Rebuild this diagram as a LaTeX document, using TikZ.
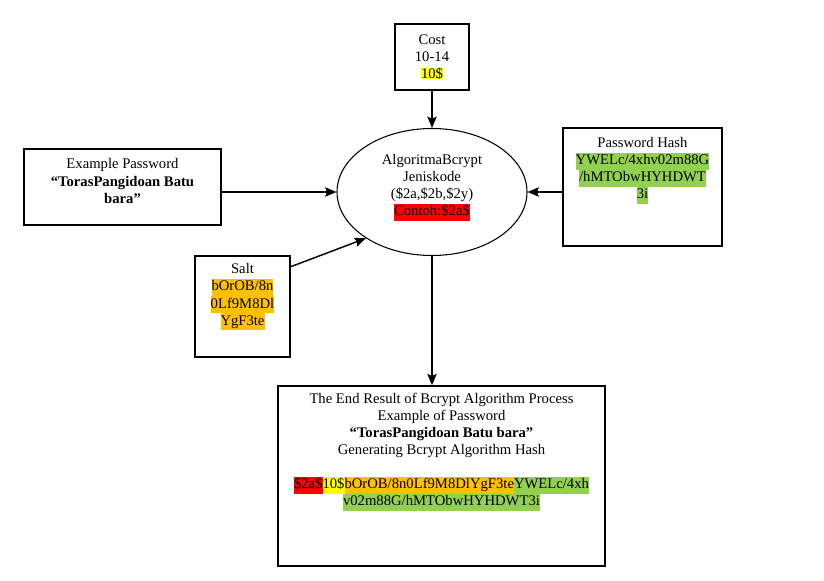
\documentclass[tikz,border=0pt]{standalone}
\usepackage{fontspec}
\setmainfont{Liberation Serif}
\usetikzlibrary{shapes.geometric,fit,arrows.meta}
\definecolor{hlyellow}{HTML}{FFFF00}
\definecolor{hlred}{HTML}{FF0000}
\definecolor{hlorange}{HTML}{FFC000}
\definecolor{hlgreen}{HTML}{92D050}
\newcommand\hl[2]{{\setlength\fboxsep{0pt}\colorbox{#1}{\strut #2}}}
\newcommand\hlt[2]{{\setlength\fboxsep{0pt}\colorbox{#1}{#2}}}
\begin{document}
\begin{tikzpicture}[x=0.75pt,y=-0.75pt,
  box/.style={draw, line width=1.1pt, inner sep=0pt},
  txt/.style={align=center, inner sep=0pt, text=black, font=\fontsize{11}{12.8}\selectfont},
  arr/.style={line width=1.1pt, -{Stealth[length=8.5pt,width=7pt,inset=1.5pt]}}]
\useasboundingbox (0,0) rectangle (824,581);
\fill[white] (0,0) rectangle (824,581);

% boxes
\node[box, fit={(395,24) (469,90)}] (cost) {};
\node[box, fit={(24,149) (221,225)}] (expw) {};
\node[box, fit={(563,128) (722,246)}] (hash) {};
\node[box, fit={(195,256) (290,357)}] (salt) {};
\node[box, fit={(278,386) (605,566)}] (end) {};
\node[draw, ellipse, line width=0.8pt, minimum width=142.5pt, minimum height=95.25pt, inner sep=0pt] (ell) at (432,192) {};

% texts
\node[txt] (costtxt) at (432,57) {Cost\\10-14\\\hlt{hlyellow}{10\$}};
\node[txt] (elltxt) at (432,187.5) {AlgoritmaBcrypt\\Jeniskode\\(\$2a,\$2b,\$2y)\\\hl{hlred}{Contoh:\$2a\$}};
\node[txt] (expwtxt) at (122.5,181) {Example Password\\\textbf{“TorasPangidoan Batu}\\\textbf{bara”}};
\node[txt] (hashtxt) at (642.5,170.5) {Password Hash\\\hl{hlgreen}{YWELc/4xhv02m88G}\\\hl{hlgreen}{/hMTObwHYHDWT}\\\hl{hlgreen}{3i}};
\node[txt] (salttxt) at (242.5,297) {Salt\\\hl{hlorange}{bOrOB/8n}\\\hl{hlorange}{0Lf9M8Dl}\\\hl{hlorange}{YgF3te}};
\node[txt] (endtxt) at (441.5,452) {The End Result of Bcrypt Algorithm Process\\Example of Password\\\textbf{“TorasPangidoan Batu bara”}\\Generating Bcrypt Algorithm Hash\\[12.8pt]\hl{hlred}{\$2a\$}\hl{hlyellow}{10\$}\hl{hlorange}{bOrOB/8n0Lf9M8DlYgF3te}\hl{hlgreen}{YWELc/4xh}\\\hl{hlgreen}{v02m88G/hMTObwHYHDWT3i}};

% connectors
\draw[arr] (cost.south) -- (cost.south |- ell.north);
\draw[arr] (expw.east |- ell.west) -- (ell.west);
\draw[arr] (hash.west |- ell.east) -- (ell.east);
\coordinate (saltout) at (290,267);
\draw[arr] (saltout) -- (ell.215);
\draw[arr] (ell.south) -- (ell.south |- end.north);
\end{tikzpicture}
\end{document}
